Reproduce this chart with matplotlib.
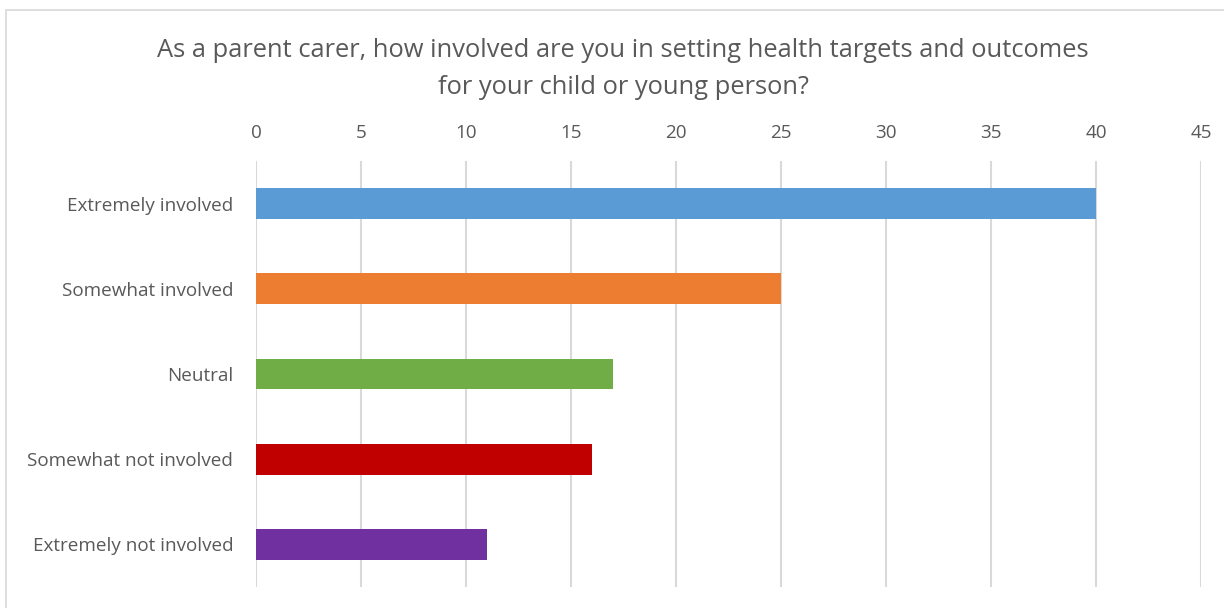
import matplotlib.pyplot as plt
from matplotlib.patches import Rectangle

# Survey responses
categories = ["Extremely involved", "Somewhat involved", "Neutral",
              "Somewhat not involved", "Extremely not involved"]
counts = [40, 25, 17, 16, 11]
colors = ["#5B9BD5", "#ED7D31", "#70AD47", "#C00000", "#7030A0"]
xticks = [0, 5, 10, 15, 20, 25, 30, 35, 40, 45]

title = ("As a parent carer, how involved are you in setting health targets and outcomes\n"
         "for your child or young person?")

plt.rcParams['font.family'] = ['Open Sans', 'DejaVu Sans']
text_color = "#595959"
grid_color = "#D9D9D9"

fig = plt.figure(figsize=(12.24, 6.08), dpi=100)
ax = fig.add_axes([0.2092, 0.0345, 0.772, 0.7007])

# outer chart border
fig.patches.append(Rectangle((6 / 1224, -0.01), 1.02, 1 - 10 / 608 + 0.01,
                             transform=fig.transFigure, fill=False,
                             edgecolor=grid_color, linewidth=1.2))

y = list(range(len(categories)))
ax.barh(y, counts, height=0.36, color=colors, zorder=3)

ax.set_xlim(0, 45)
ax.set_ylim(len(categories) - 0.5, -0.5)
ax.set_xticks(xticks)
ax.set_yticks(y)
ax.set_yticklabels(categories)
ax.xaxis.tick_top()
ax.tick_params(axis='both', length=0, labelsize=13.6, colors=text_color)
ax.tick_params(axis='x', pad=13.5)
ax.tick_params(axis='y', pad=16.5)
ax.grid(axis='x', color=grid_color, linewidth=1.5, zorder=0)
for s in ax.spines.values():
    s.set_visible(False)

fig.text(0.509, 0.886, title, ha='center', va='center', fontsize=18.4,
         color=text_color, linespacing=1.62)

fig.savefig("out.png", dpi=100)
